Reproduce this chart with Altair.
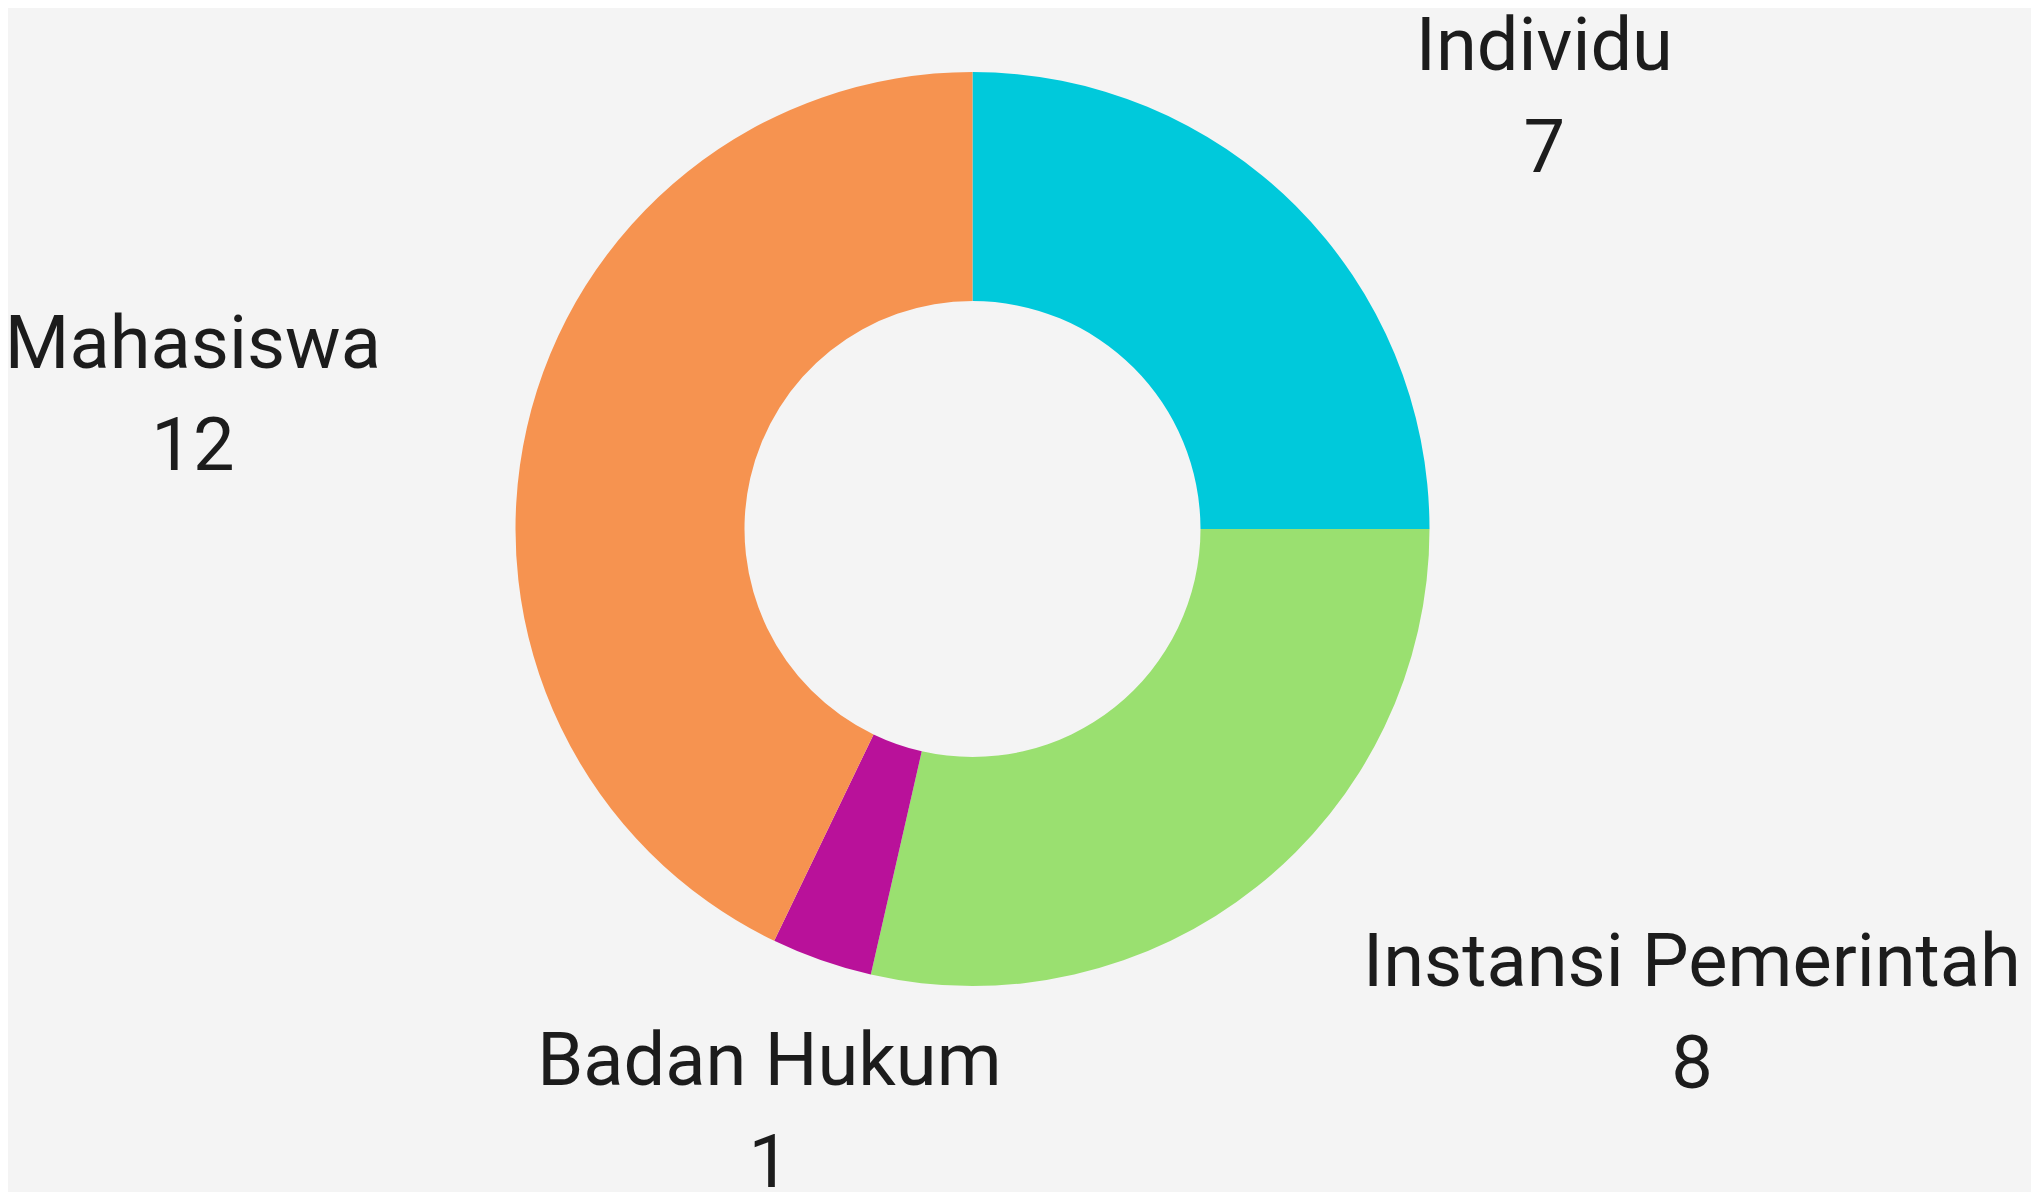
import altair as alt
import pandas as pd

categories = ["Individu", "Instansi Pemerintah", "Badan Hukum", "Mahasiswa"]
values = [7, 8, 1, 12]
colors = ["#00C9DB", "#9AE070", "#B9119A", "#F69350"]

# horizontal shift of each two-line label block from its anchor point (style only)
label_dx = {"Individu": 137, "Instansi Pemerintah": 336, "Badan Hukum": 0, "Mahasiswa": -180}

df = pd.DataFrame({"category": categories, "value": values, "idx": list(range(len(categories)))})

base = alt.Chart(df).encode(
    theta=alt.Theta("value:Q", stack=True),
    order=alt.Order("idx:Q", sort="ascending"),
)

arc = base.mark_arc(innerRadius=228, outerRadius=457).encode(
    color=alt.Color("category:N", scale=alt.Scale(domain=categories, range=colors), legend=None)
)


def text_layer(cat, dx):
    expr = f"datum.category == '{cat}' ? datum.category + '\\n' + datum.value : ''"
    return base.transform_calculate(label=expr).mark_text(
        radius=615,
        align="center",
        baseline="middle",
        dx=dx,
        dy=-46,
        font="Roboto",
        fontSize=74,
        lineHeight=102,
        lineBreak="\n",
        color="#1c1c1c",
    ).encode(text="label:N")


layers = [arc] + [text_layer(c, label_dx[c]) for c in categories]

chart = alt.layer(*layers).properties(
    width=1929,
    height=1042,
    autosize=alt.AutoSizeParams(type="none"),
    padding={"left": 0, "top": 0, "right": 94, "bottom": 142},
    background="#f4f4f4",
).configure_view(stroke=None)

chart.save("out.html", embed_options={"renderer": "svg", "actions": False})
